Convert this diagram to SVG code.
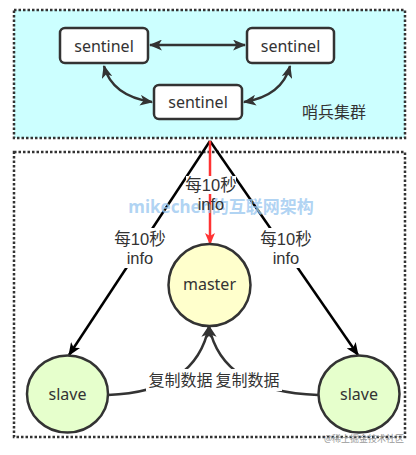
<svg xmlns="http://www.w3.org/2000/svg" width="416" height="455" viewBox="0 0 416 455">
<style>
text{font-family:"Noto Sans","Noto Sans CJK SC",sans-serif;fill:#333;text-anchor:middle;dominant-baseline:central}
.grp{stroke:#333;stroke-width:2.5;stroke-dasharray:2.5 2}
.sent{fill:#fff;stroke:#333;stroke-width:2.5}
.conn{fill:none;stroke:#333;stroke-width:2.5}
.blk{fill:none;stroke:#000;stroke-width:2.5}
.lbl{font-size:16px}
text.two{font-family:"Liberation Sans","Noto Sans CJK SC",sans-serif;font-size:16.5px}
.bg{fill:#fff}
</style>
<defs>
<marker id="ah" viewBox="0 0 12 10" refX="11" refY="5" markerWidth="13" markerHeight="11" markerUnits="userSpaceOnUse" orient="auto-start-reverse">
<path d="M0,0 L12,5 L0,10 L3,5 z" fill="#333"/>
</marker>
<marker id="ahb" viewBox="0 0 12 10" refX="11" refY="5" markerWidth="13" markerHeight="11" markerUnits="userSpaceOnUse" orient="auto">
<path d="M0,0 L12,5 L0,10 L3,5 z" fill="#000"/>
</marker>
<marker id="ahr" viewBox="0 0 12 10" refX="11" refY="5" markerWidth="12" markerHeight="10" markerUnits="userSpaceOnUse" orient="auto">
<path d="M0,0 L12,5 L0,10 L3,5 z" fill="#ff3333"/>
</marker>
</defs>
<rect width="416" height="455" fill="#fff"/>
<g id="sentinel-cluster">
<rect x="14" y="10" width="391" height="128" fill="#ccffff" class="grp"/>
<text x="334" y="112" style="font-size:16px">哨兵集群</text>
</g>
<g id="data-group">
<rect x="14" y="152" width="391" height="285" fill="none" class="grp"/>
</g>
<g id="connectors">
<line x1="150" y1="45" x2="245" y2="45" class="conn" marker-start="url(#ah)" marker-end="url(#ah)"/>
<path d="M104,66 Q112,96 152,102" class="conn" marker-start="url(#ah)" marker-end="url(#ah)"/>
<path d="M290,66 Q282,96 244,102" class="conn" marker-start="url(#ah)" marker-end="url(#ah)"/>
<line x1="210" y1="141" x2="69" y2="355" class="blk" marker-end="url(#ahb)"/>
<line x1="210" y1="141" x2="358" y2="355" class="blk" marker-end="url(#ahb)"/>
<line x1="210" y1="141" x2="210" y2="244" fill="none" stroke="#ff3333" stroke-width="2.5" marker-end="url(#ahr)"/>
<path d="M108,395 C165,393 200,372 209,326" class="conn" marker-end="url(#ah)"/>
<path d="M318,395 C258,393 218,372 209,326" class="conn" marker-end="url(#ah)"/>
</g>
<g id="watermark">
<text x="221" y="206" style="font-size:17px;font-weight:bold;fill:#9cc8f0;fill-opacity:0.8">mikechen的互联网架构</text>
</g>
<g id="labels">
<rect x="186" y="176" width="50" height="18" class="bg"/>
<text class="two"><tspan x="211" y="185">每10秒</tspan><tspan x="211" y="204">info</tspan></text>
<rect x="113" y="228" width="54" height="40" class="bg"/>
<text class="two"><tspan x="140" y="239">每10秒</tspan><tspan x="140" y="258">info</tspan></text>
<rect x="259" y="228" width="54" height="40" class="bg"/>
<text class="two"><tspan x="286" y="239">每10秒</tspan><tspan x="286" y="258">info</tspan></text>
<rect x="146" y="369" width="136" height="22" class="bg"/>
<text x="180.5" y="380" class="lbl">复制数据</text>
<text x="247.5" y="380" class="lbl">复制数据</text>
</g>
<g id="sentinel-1">
<rect x="60" y="28" width="88" height="35" rx="5" class="sent"/>
<text x="104" y="45.5" style="font-size:16px">sentinel</text>
</g>
<g id="sentinel-2">
<rect x="247" y="28" width="87" height="35" rx="5" class="sent"/>
<text x="290.5" y="45.5" style="font-size:16px">sentinel</text>
</g>
<g id="sentinel-3">
<rect x="154" y="85" width="88" height="34" rx="5" class="sent"/>
<text x="198" y="102" style="font-size:16px">sentinel</text>
</g>
<g id="master">
<circle cx="209.5" cy="285" r="41" fill="#ffffcc" stroke="#333" stroke-width="2.5"/>
<text x="209.5" y="284" style="font-size:16px">master</text>
</g>
<g id="slave-left">
<ellipse cx="67.5" cy="394" rx="40.5" ry="38.5" fill="#e6ffcc" stroke="#333" stroke-width="2.5"/>
<text x="67.5" y="394" style="font-size:16px">slave</text>
</g>
<g id="slave-right">
<ellipse cx="359" cy="394" rx="40.5" ry="38.5" fill="#e6ffcc" stroke="#333" stroke-width="2.5"/>
<text x="359" y="394" style="font-size:16px">slave</text>
</g>
<g id="corner-mark">
<text x="364" y="438" style="font-size:9px;fill:#999">@稀土掘金技术社区</text>
</g>
</svg>
